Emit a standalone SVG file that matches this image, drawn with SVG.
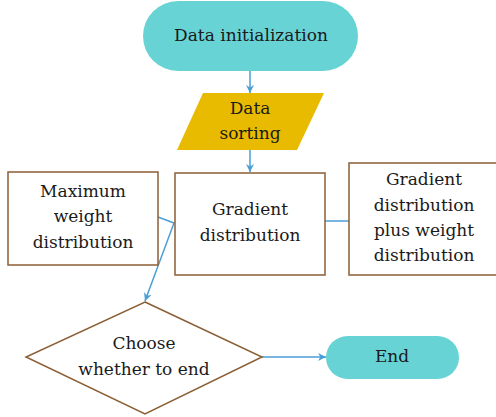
<svg xmlns="http://www.w3.org/2000/svg" width="496" height="417" viewBox="0 0 496 417">
<defs>
<style>
text{font-family:"DejaVu Serif","Liberation Serif",serif;font-size:17px;fill:#1a1a1a;text-anchor:middle}
.term{fill:#68D3D5}
.box{fill:#fff;stroke:#8B5E34;stroke-width:1.5}
.con{fill:none;stroke:#4A9ED6;stroke-width:1.5}
</style>
<marker id="ah" viewBox="0 0 10 10" refX="10" refY="5" markerWidth="8" markerHeight="8" markerUnits="userSpaceOnUse" orient="auto">
<path d="M0,0 L10,5 L0,10 L3,5 Z" fill="#4A9ED6"/>
</marker>
</defs>
<g id="connectors">
<line class="con" x1="250" y1="71" x2="250" y2="93" marker-end="url(#ah)"/>
<line class="con" x1="250" y1="150" x2="250" y2="172" marker-end="url(#ah)"/>
<line class="con" x1="325" y1="221" x2="349" y2="221"/>
<polyline class="con" points="158,217 174,223 145,301" marker-end="url(#ah)"/>
<line class="con" x1="262" y1="357" x2="326" y2="357" marker-end="url(#ah)"/>
</g>
<g id="start">
<rect class="term" x="143" y="1" width="215" height="70" rx="35"/>
<text x="251" y="41">Data initialization</text>
</g>
<g id="sorting">
<polygon points="203,93 324,93 297,150 177,150" fill="#E8BA00"/>
<text x="250" y="114">Data</text>
<text x="250" y="139">sorting</text>
</g>
<g id="gradient">
<rect class="box" x="175" y="173" width="150" height="102"/>
<text x="250" y="215">Gradient</text>
<text x="250" y="241">distribution</text>
</g>
<g id="maxweight">
<rect class="box" x="8" y="172" width="150" height="93"/>
<text x="83" y="197">Maximum</text>
<text x="83" y="222">weight</text>
<text x="83" y="248">distribution</text>
</g>
<g id="gradplus">
<rect class="box" x="349" y="163" width="150" height="112"/>
<text x="424" y="185">Gradient</text>
<text x="424" y="211">distribution</text>
<text x="424" y="236">plus weight</text>
<text x="424" y="261">distribution</text>
</g>
<g id="choose">
<polygon class="box" points="145,302 262,357 145,414 26,357"/>
<text x="144" y="349">Choose</text>
<text x="144" y="375">whether to end</text>
</g>
<g id="end">
<rect class="term" x="326" y="336" width="133" height="43" rx="21.5"/>
<text x="392" y="362">End</text>
</g>
</svg>
